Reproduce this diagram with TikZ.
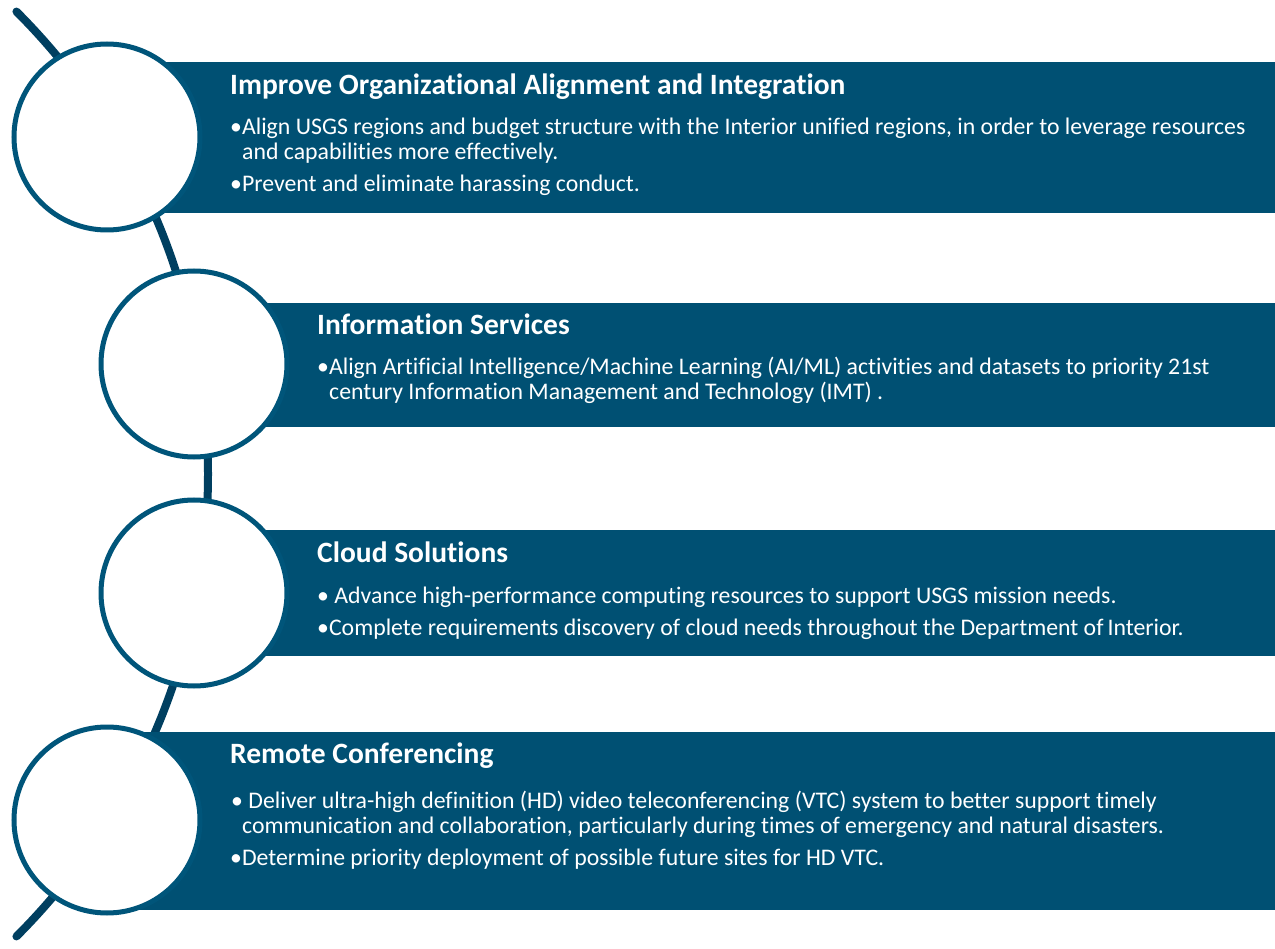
\documentclass[tikz,border=0pt]{standalone}
\usepackage{fontspec}
\setmainfont{Carlito}[Ligatures=NoCommon]
\definecolor{bandblue}{HTML}{005073}
\definecolor{ringblue}{HTML}{00557A}
\definecolor{arcblue}{HTML}{003F60}
\begin{document}
\begin{tikzpicture}[x=1pt,y=-1pt,
  band/.style={fill=bandblue, draw=none, anchor=north west, inner sep=0pt},
  ring/.style={circle, draw=ringblue, line width=5pt, fill=white, minimum size=186pt, inner sep=0pt},
  ttl/.style={anchor=base west, inner sep=0pt, text=white, font=\fontsize{29.5}{34}\selectfont\bfseries},
  txt/.style={anchor=base west, inner sep=0pt, text=white, font=\fontsize{23.8}{28}\selectfont},
  spine/.style={draw=arcblue, line width=8pt, line cap=round}]
\useasboundingbox (0,0) rectangle (1275,949);
% spine arc
\coordinate (arccenter) at (-446,474);
\draw[spine] (arccenter) ++(45:654pt) arc[start angle=45, end angle=-45, radius=654pt];
% bands
\node[band, minimum width=1168pt, minimum height=151pt] (r1) at (107,62) {};
\node[band, minimum width=1081pt, minimum height=124pt] (r2) at (194,303) {};
\node[band, minimum width=1081pt, minimum height=126pt] (r3) at (194,530) {};
\node[band, minimum width=1168pt, minimum height=178pt] (r4) at (107,732) {};
% circles
\node[ring] (c1) at (107,137) {};
\node[ring] (c2) at (194,364) {};
\node[ring] (c3) at (194,593) {};
\node[ring] (c4) at (107,820) {};
% texts band 1
\node[ttl] (t1) at (230,95) {Improve Organizational Alignment and Integration};
\node[txt] (t1a) at (230,135) {•Align USGS regions and budget structure with the Interior unified regions, in order to leverage resources};
\node[txt] (t1b) at (242,160) {and capabilities more effectively.};
\node[txt] (t1c) at (230,192) {•Prevent and eliminate harassing conduct.};
% band 2
\node[ttl] (t2) at (317,335) {Information Services};
\node[txt] (t2a) at (317,375) {•Align Artificial Intelligence/Machine Learning (AI/ML) activities and datasets to priority 21st};
\node[txt] (t2b) at (329,400) {century Information Management and Technology (IMT) .};
% band 3
\node[ttl] (t3) at (317,562) {Cloud Solutions};
\node[txt] (t3a) at (317,603) {• Advance high-performance computing resources to support USGS mission needs.};
\node[txt] (t3b) at (317,635) {•Complete requirements discovery of cloud needs throughout the Department of\,Interior.};
% band 4
\node[ttl] (t4) at (230,763) {Remote Conferencing};
\node[txt] (t4a) at (231,808) {• Deliver ultra-high definition (HD) video teleconferencing (VTC) system to better support timely};
\node[txt] (t4b) at (242,833) {communication and collaboration, particularly during times of emergency and natural disasters.};
\node[txt] (t4c) at (230,865) {•Determine priority deployment of possible future sites for HD VTC.};
\end{tikzpicture}
\end{document}
